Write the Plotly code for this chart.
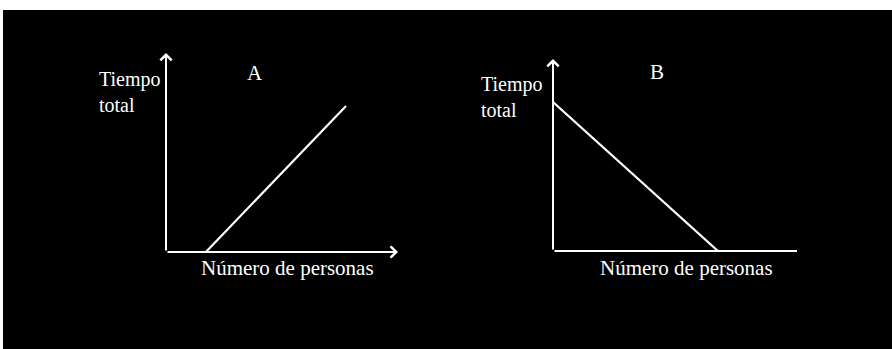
import plotly.graph_objects as go

panel_names = ["A", "B"]
x_label = "Número de personas"
y_label = "Tiempo<br>total"
axis_max = 10

line_a_x = [1.72, 7.76]
line_a_y = [0, 7.34]
line_b_x = [0, 6.76]
line_b_y = [7.76, 0]

W, H = 892, 349
FONT = dict(family="Liberation Serif, Times New Roman, serif", size=21, color="white")
YFONT = dict(FONT, size=20)
WHITE = "white"


def px(x, y):
    # pixel position -> paper fraction
    return x / W, 1 - y / H


fig = go.Figure()
fig.add_trace(go.Scatter(x=line_a_x, y=line_a_y, mode="lines", line=dict(color=WHITE, width=2.2),
                         xaxis="x", yaxis="y", showlegend=False, hoverinfo="skip"))
fig.add_trace(go.Scatter(x=line_b_x, y=line_b_y, mode="lines", line=dict(color=WHITE, width=2.2),
                         xaxis="x2", yaxis="y2", showlegend=False, hoverinfo="skip"))

ann = []
# axes drawn as arrows in data coordinates
for xr, yr, x_head in [("x", "y", 4), ("x2", "y2", 0)]:
    ann.append(dict(x=axis_max, y=0, ax=0, ay=0, xref=xr, yref=yr, axref=xr, ayref=yr, text="",
                    showarrow=True, arrowhead=x_head, arrowsize=1.1, arrowwidth=2, arrowcolor=WHITE))
    ann.append(dict(x=0, y=axis_max, ax=0, ay=0, xref=xr, yref=yr, axref=xr, ayref=yr, text="",
                    showarrow=True, arrowhead=4, arrowsize=1.1, arrowwidth=2, arrowcolor=WHITE))

# label pixel positions: (y label left, y label mid, name x, name y, xlabel x, xlabel y)
label_pos = [(97, 92, 255, 73, 287, 268),
             (479, 97, 657, 72, 686, 268)]
for name, (lx, ly, nx, ny, xx, xy) in zip(panel_names, label_pos):
    a, b = px(lx, ly)
    ann.append(dict(x=a, y=b, xref="paper", yref="paper", text=y_label, showarrow=False,
                    xanchor="left", yanchor="middle", align="left", font=YFONT))
    a, b = px(nx, ny)
    ann.append(dict(x=a, y=b, xref="paper", yref="paper", text=name, showarrow=False,
                    xanchor="center", yanchor="middle", font=FONT))
    a, b = px(xx, xy)
    ann.append(dict(x=a, y=b, xref="paper", yref="paper", text=x_label, showarrow=False,
                    xanchor="center", yanchor="middle", font=FONT))

hidden = dict(visible=False, range=[0, axis_max], fixedrange=True)
fig.update_layout(
    width=W, height=H,
    margin=dict(l=0, r=0, t=0, b=0),
    paper_bgcolor="white", plot_bgcolor="rgba(0,0,0,0)",
    xaxis=dict(hidden, domain=[166 / W, 398 / W]),
    yaxis=dict(hidden, domain=[97 / H, 296 / H]),
    xaxis2=dict(hidden, domain=[553 / W, 797 / W], anchor="y2"),
    yaxis2=dict(hidden, domain=[98 / H, 290 / H], anchor="x2"),
    shapes=[dict(type="rect", xref="paper", yref="paper", x0=3 / W, x1=1.02, y0=-0.02, y1=339 / H,
                 fillcolor="black", line=dict(width=0), layer="below")],
    annotations=ann,
)

fig.write_html("out.html", config={"displayModeBar": False},
               post_script="document.body.style.margin='0px';document.body.style.background='black';"
                           "document.body.style.overflow='hidden';")
